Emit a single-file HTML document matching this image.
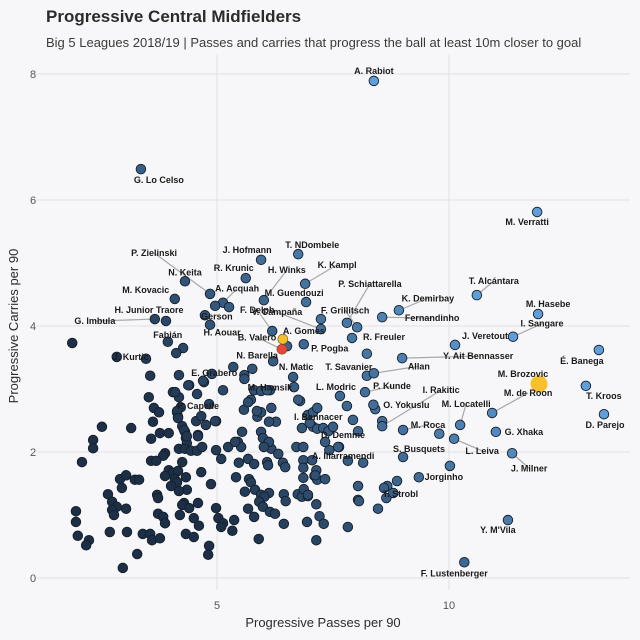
<!DOCTYPE html>
<html><head><meta charset="utf-8"><style>
html,body{margin:0;padding:0;background:#f7f7f9;}
svg{display:block;font-family:"Liberation Sans",sans-serif;}
</style></head><body>
<svg id="chart" width="640" height="640" viewBox="0 0 640 640">
<rect x="0" y="0" width="640" height="640" fill="#f7f7f9"/>
<text x="46" y="22" font-size="17" font-weight="bold" fill="#2b2b2b">Progressive Central Midfielders</text>
<text x="46" y="47" font-size="13" fill="#3a3a3a">Big 5 Leagues 2018/19 | Passes and carries that progress the ball at least 10m closer to goal</text>
<g id="grid"></g>
<g id="ticks"></g>
<g id="lines"></g>
<g id="points"></g>
<g id="labels"></g>
<text x="323" y="627" font-size="13" fill="#2b2b2b" text-anchor="middle">Progressive Passes per 90</text>
<text x="18" y="326" font-size="13" fill="#2b2b2b" text-anchor="middle" transform="rotate(-90 18 326)">Progressive Carries per 90</text>
</svg>
<script>
const xTicks = [5, 10];
const yTicks = [0, 2, 4, 6, 8];
const passes = [3.53,3.64,3.75,3.62,3.77,3.58,2.52,3.15,3.96,2.33,2.33,2.09,3.88,3.84,3.58,3.69,4.18,4.14,4.22,4.16,4.25,4.31,4.33,4.35,4.18,4.31,4.44,4.57,4.68,4.59,4.55,4.66,4.76,4.83,4.57,4.40,4.05,4.72,4.25,4.66,4.87,4.98,5.09,5.13,3.96,4.05,4.16,3.88,4.09,4.33,4.14,4.01,4.35,4.18,3.71,3.73,4.59,4.29,4.25,4.40,4.98,3.73,3.84,3.88,4.20,4.50,4.61,5.03,5.13,5.09,5.37,5.33,4.33,4.50,4.83,4.81,3.40,3.56,3.60,3.77,3.06,2.69,3.28,2.97,2.00,2.24,2.18,1.96,1.96,2.65,2.74,2.84,2.74,2.78,3.04,2.91,3.04,2.95,3.23,3.32,5.54,5.45,5.24,5.67,5.47,5.80,5.95,5.99,6.10,6.17,6.32,6.42,6.47,6.08,6.10,6.27,6.12,6.17,5.87,5.95,6.79,6.71,6.86,6.86,7.05,6.86,6.86,7.14,7.10,7.16,7.33,5.41,5.69,5.73,5.60,5.82,5.95,6.12,6.02,5.91,5.99,6.14,6.25,6.44,6.48,5.67,5.80,6.74,6.83,6.87,6.96,7.14,7.21,7.30,6.94,6.44,5.90,7.14,7.82,8.04,8.04,7.93,7.80,8.04,7.63,7.42,7.82,8.15,8.06,8.47,8.88,8.67,8.60,8.65,8.80,9.35,10.02,9.01,9.79,10.11,10.24,9.01,8.56,8.56,8.41,8.37,8.19,7.65,6.83,7.07,7.16,7.29,7.40,7.50,7.33,7.00,6.96,7.07,7.16,7.12,6.96,10.33,11.27,3.56,4.18,4.38,4.10,4.70,4.14,4.16,4.29,4.35,4.59,4.96,5.73,5.80,5.95,6.14,5.59,5.76,5.35,5.59,6.21,6.64,6.66,6.75,5.86,5.58,5.67,6.12,6.01,5.52,5.39,4.98,4.89,6.08,6.51,8.38,3.36,11.90,6.75,5.95,5.62,6.90,4.31,4.85,5.13,4.96,5.26,4.09,6.01,6.92,3.90,3.66,1.88,2.84,3.47,3.94,4.74,4.85,4.27,4.12,6.19,7.24,7.24,7.80,8.02,7.91,8.56,8.92,10.60,11.92,11.38,10.13,6.87,8.23,8.99,13.23,12.95,13.34,10.93,11.01,11.36,8.23,8.38,7.61];
const carries = [2.87,2.70,2.63,2.48,2.30,2.21,2.40,2.38,2.30,2.19,2.06,1.84,1.98,1.94,1.86,1.86,2.87,2.63,2.71,2.56,2.41,2.32,2.22,2.14,2.05,2.05,2.02,2.02,2.08,2.27,2.49,2.57,2.43,2.76,2.92,3.06,2.95,3.11,1.84,1.68,1.49,2.49,1.89,2.98,1.71,1.67,1.70,1.62,1.57,1.60,1.52,1.46,1.40,1.38,1.32,1.27,1.19,1.19,1.16,1.11,1.11,1.02,0.97,0.87,1.00,0.95,0.83,0.95,0.87,0.81,0.92,0.75,0.70,0.65,0.51,0.37,0.70,0.70,0.60,0.63,0.73,0.73,0.38,0.16,0.67,0.60,0.52,1.06,0.89,1.33,1.21,1.13,1.08,1.00,1.10,1.57,1.63,1.43,1.56,1.56,2.32,2.16,2.08,1.89,1.83,1.81,2.32,2.22,2.14,2.05,1.97,1.83,1.76,1.84,1.79,2.48,2.48,2.70,2.56,2.63,2.81,2.08,2.08,1.87,1.87,1.75,1.59,1.71,1.62,1.56,1.57,1.60,1.57,1.52,1.37,1.40,1.32,1.35,1.29,1.21,1.13,1.05,1.02,1.33,1.22,1.10,0.97,1.33,1.29,1.41,1.30,1.17,0.98,0.86,0.89,0.86,0.62,0.60,0.81,1.46,1.24,2.51,2.73,2.33,2.08,2.03,1.86,1.83,1.22,1.10,1.54,1.46,1.43,1.27,1.35,1.60,1.78,1.92,2.29,2.21,2.43,2.35,2.49,2.41,2.68,2.75,2.95,2.89,2.38,2.40,2.37,2.38,2.33,2.40,2.16,2.46,2.59,2.63,2.70,1.63,1.32,0.25,0.92,3.21,3.22,3.06,2.95,3.13,2.65,2.54,2.35,2.25,2.25,2.49,2.83,2.98,2.97,2.98,3.22,3.32,3.35,3.16,3.44,3.19,3.03,2.83,2.65,2.67,2.79,2.16,2.08,2.08,2.16,2.03,3.24,2.98,3.68,7.89,6.49,5.81,5.14,5.05,4.76,4.67,4.71,4.51,4.37,4.32,4.30,4.43,4.41,4.38,4.08,4.11,3.73,3.51,3.48,3.75,4.17,4.02,3.65,3.57,3.92,4.11,3.95,4.05,3.98,3.81,4.14,4.25,4.49,4.19,3.83,3.70,3.71,3.56,3.49,3.62,3.05,2.60,2.62,2.32,1.98,3.21,3.25,2.08];
const highlightNames = ["A. Gomes", "B. Valero", "M. Brozovic"];
const highlightPasses = [6.42, 6.40, 11.94];
const highlightCarries = [3.79, 3.63, 3.08];
const highlightColors = ["#f2c12e", "#e8453c", "#f7c02c"];
const highlightSizes = [5, 5, 8.5];
const labelNames = ["A. Rabiot","G. Lo Celso","M. Verratti","T. NDombele","J. Hofmann","R. Krunic","H. Winks","K. Kampl","P. Zielinski","N. Keita","M. Kovacic","A. Acquah","M. Guendouzi","H. Junior Traore","G. Imbula","Gerson","F. Delph","V. Campaña","F. Grillitsch","P. Schiattarella","K. Demirbay","Fernandinho","T. Alcántara","M. Hasebe","I. Sangare","J. Veretout","R. Freuler","A. Gomes","B. Valero","P. Pogba","N. Barella","Y. Ait Bennasser","É. Banega","E. Grabero","N. Matic","T. Savanier","Allan","M. Brozovic","T. Kroos","M. de Roon","D. Parejo","M. Hamsik","L. Modric","P. Kunde","I. Rakitic","P. Capelle","O. Yokuslu","M. Locatelli","I. Bennacer","M. Roca","G. Xhaka","D. Demme","S. Busquets","L. Leiva","A. Illarramendi","J. Milner","Jorginho","T. Strobl","Y. M'Vila","F. Lustenberger","J. Kurtic","Fabián","H. Aouar"];
const labelPasses = [8.38,3.36,11.90,6.75,5.95,5.62,6.01,6.90,4.85,4.31,4.09,5.13,6.92,3.90,3.66,4.74,6.19,7.24,8.02,7.80,8.92,8.56,10.60,11.92,11.38,10.13,7.91,6.42,6.40,6.87,6.21,8.99,13.23,5.35,6.64,8.23,8.38,11.94,12.95,10.93,13.34,6.14,7.65,8.19,8.56,4.83,8.37,10.24,7.16,9.01,11.01,7.93,9.01,10.11,7.61,11.36,9.35,8.65,11.27,10.33,2.84,3.94,4.85];
const labelCarries = [7.89,6.49,5.81,5.14,5.05,4.76,4.41,4.67,4.51,4.71,4.43,4.37,4.38,4.08,4.11,4.17,3.92,3.95,3.98,4.05,4.25,4.14,4.49,4.19,3.83,3.70,3.81,3.79,3.63,3.71,3.44,3.49,3.62,3.35,3.19,3.21,3.25,3.08,3.05,2.62,2.60,2.98,2.89,2.95,2.41,2.76,2.75,2.43,2.70,2.35,2.32,2.51,1.92,2.21,2.08,1.98,1.60,1.27,0.92,0.25,3.51,3.75,4.02];
// label layout offsets (pixels) and whether a connector is drawn
const labelDx = [0,18,-10,14,-14,-12,23,32,-56,0,-29,14,-12,-17,-60,12,-15,-44,-12,23,29,50,17,10,29,30,32,21,-25,26,-16,76,-17,-19,3,-18,45,-16,18,36,1,0,-4,27,59,-11,33,6,1,25,28,-10,16,28,5,17,25,14,-10,-10,14,0,12];
const labelDy = [-10,11,10,-9,-10,-10,-30,-19,-41,-9,-9,-14,-9,-11,2,1,-21,-17,-17,-39,-12,1,-14,-10,-13,-9,-1,-8,-12,4,-6,-2,11,6,-10,-9,-7,-10,10,-20,11,-3,-9,-6,-36,2,0,-21,9,-5,0,15,-8,12,9,15,0,-4,10,11,0,-7,8];
const labelLine = [0,0,0,0,0,0,1,1,1,0,0,1,0,0,1,0,1,1,1,1,1,1,1,0,1,0,0,0,1,0,0,1,0,0,0,0,1,0,0,1,0,0,0,1,1,0,0,1,0,1,0,0,0,1,0,1,0,1,0,0,0,0,0];

const NS = "http://www.w3.org/2000/svg";
const X0 = 36, X1 = 630, Y0 = 55, Y1 = 590;
function xs(v){ return 217 + (v - 5) * 46.4; }
function ys(v){ return 578 - v * 63; }
function mk(tag, attrs, parent){ const e = document.createElementNS(NS, tag); for (const k in attrs) e.setAttribute(k, attrs[k]); parent.appendChild(e); return e; }
function lerp(a,b,t){ return Math.round(a + (b - a) * t); }
function colorFor(p, c){
  let t = (p + c - 6) / 9; t = Math.max(0, Math.min(1, t));
  return "rgb(" + lerp(28,95,t) + "," + lerp(47,158,t) + "," + lerp(71,217,t) + ")";
}
const grid = document.getElementById("grid"), ticks = document.getElementById("ticks");
xTicks.forEach(v => {
  const l = mk("line", {x1: xs(v), x2: xs(v), y1: Y0, y2: Y1, stroke: "#e2e2e6", "stroke-width": 1}, grid);
  
  
  const t = mk("text", {x: xs(v), y: 609, "font-size": 11, fill: "#555", "text-anchor": "middle"}, ticks);
  t.textContent = v;
  
  
});
yTicks.forEach(v => {
  const l = mk("line", {x1: X0, x2: X1, y1: ys(v), y2: ys(v), stroke: "#e2e2e6", "stroke-width": 1}, grid);
  
  
  const t = mk("text", {x: 33, y: ys(v) + 4, "font-size": 11, fill: "#555", "text-anchor": "middle"}, ticks);
  t.textContent = v;
  
  
});
const pts = document.getElementById("points");
passes.forEach((p, i) => {
  const c = mk("circle", {cx: xs(p), cy: ys(carries[i]), r: 4.8, fill: colorFor(p, carries[i]), stroke: "#15202c", "stroke-width": 0.9}, pts);
  
  
});
highlightPasses.forEach((p, i) => {
  const c = mk("circle", {cx: xs(p), cy: ys(highlightCarries[i]), r: highlightSizes[i], fill: highlightColors[i], stroke: i === 2 ? "none" : "#6b4b10", "stroke-width": 0.6}, pts);
  
  
});
const lines = document.getElementById("lines"), labs = document.getElementById("labels");
labelNames.forEach((n, i) => {
  const px = xs(labelPasses[i]), py = ys(labelCarries[i]);
  const lx = px + labelDx[i], ly = py + labelDy[i];
  if (labelLine[i]) {
    const l = mk("line", {x1: px, y1: py, x2: lx, y2: ly, stroke: "#a8a8a8", "stroke-width": 1.2}, lines);
    
    
  }
  const t = mk("text", {x: lx, y: ly + 3, "font-size": 9, "font-weight": "bold", fill: "#1a1a1a", "text-anchor": "middle"}, labs);
  t.textContent = n;
  
  
});
</script>
</body></html>
